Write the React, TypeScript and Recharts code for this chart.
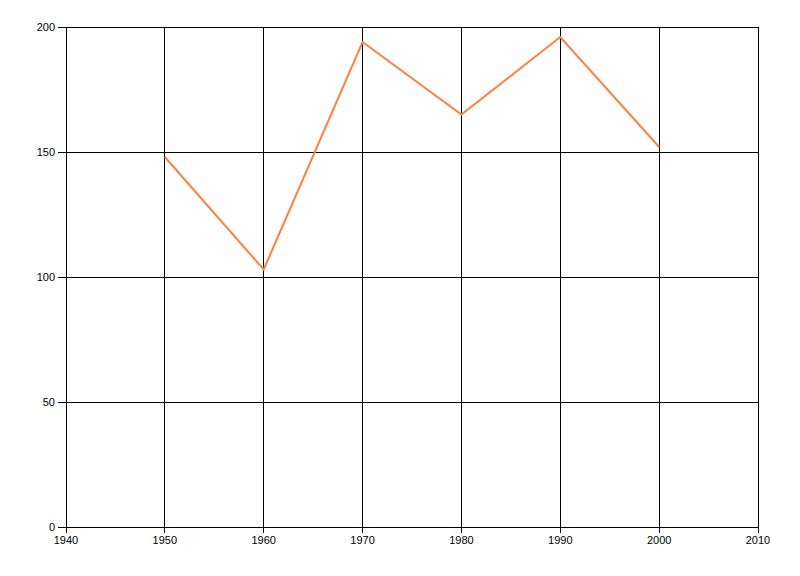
import { LineChart, Line, XAxis, YAxis, CartesianGrid } from 'recharts';

const years = [1950, 1960, 1970, 1980, 1990, 2000];
const values = [148, 103, 194, 165, 196, 152];
const xTicks = [1940, 1950, 1960, 1970, 1980, 1990, 2000, 2010];
const yTicks = [0, 50, 100, 150, 200];

const data = years.map((year, i) => ({ year, value: values[i] }));

const tickStyle = { fill: '#000', fontSize: 11, fontFamily: 'Liberation Sans, Arial, sans-serif' };

export default function App() {
  return (
    <div style={{ position: 'absolute', left: 0, top: 0, width: 800, height: 576, background: '#fff' }}>
      <LineChart width={800} height={576} data={data} margin={{ top: 27, right: 42, left: 0, bottom: 29 }}>
        <CartesianGrid stroke="#000" strokeWidth={1} shapeRendering="crispEdges" />
        <XAxis
          dataKey="year"
          type="number"
          domain={[1940, 2010]}
          ticks={xTicks}
          interval={0}
          height={20}
          tick={tickStyle}
          tickSize={6}
          tickMargin={3}
          axisLine={{ stroke: '#000', shapeRendering: 'crispEdges' }}
          tickLine={{ stroke: '#000', shapeRendering: 'crispEdges' }}
        />
        <YAxis
          type="number"
          domain={[0, 200]}
          ticks={yTicks}
          interval={0}
          width={66}
          tick={tickStyle}
          tickSize={8}
          tickMargin={3}
          axisLine={{ stroke: '#000', shapeRendering: 'crispEdges' }}
          tickLine={{ stroke: '#000', shapeRendering: 'crispEdges' }}
        />
        <Line
          dataKey="value"
          stroke="#ff7f40"
          strokeWidth={2}
          dot={false}
          isAnimationActive={false}
        />
      </LineChart>
    </div>
  );
}
